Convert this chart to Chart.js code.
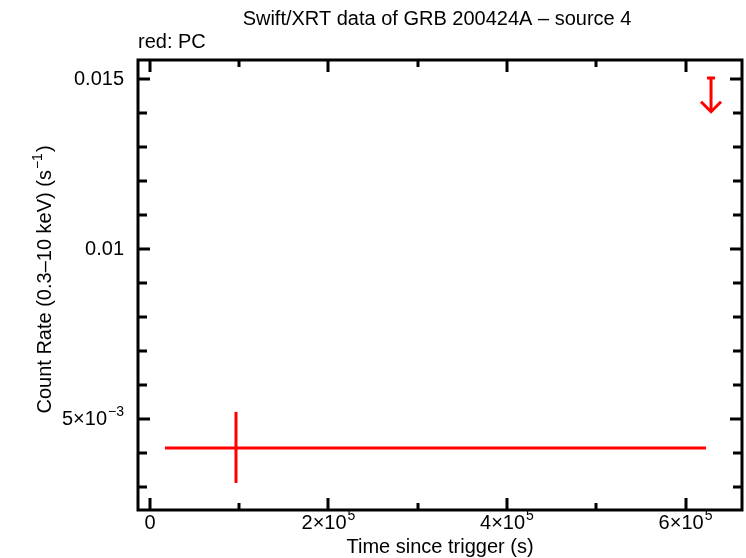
<!DOCTYPE html>
<html>
<head>
<meta charset="utf-8">
<script src="https://cdn.jsdelivr.net/npm/chart.js@4.4.0/dist/chart.umd.min.js"></script>
<style>
  html, body { margin: 0; padding: 0; background: #fff; }
  #wrap { width: 746px; height: 558px; }
</style>
</head>
<body>
<div id="wrap"><canvas id="lc" width="746" height="558"></canvas></div>
<script>
// datos
const pcTime = [96400];
const pcTimeLo = [16800];
const pcTimeHi = [623000];
const pcRate = [0.00415];
const pcRateLo = [0.00312];
const pcRateHi = [0.00521];

// límite superior
const ulTime = [628600];
const ulRate = [0.01503];

// ejes
const xMajor = [0, 200000, 400000, 600000];
const xMajorLabels = [['0', ''], ['2×10', '5'], ['4×10', '5'], ['6×10', '5']];
const xMinor = [100000, 300000, 500000];
const yMajor = [0.005, 0.01, 0.015];
const yMajorLabels = [['5×10', '−3'], ['0.01', ''], ['0.015', '']];
const yMinor = [0.003, 0.004, 0.006, 0.007, 0.008, 0.009, 0.011, 0.012, 0.013, 0.014];

const RED = '#ff0000';
const FONT = '"Liberation Sans", Arial, sans-serif';
const FS = 20;
const SUP = 0.7;

// segmentos de error como datasets de línea
const datasets = [];
for (let i = 0; i < pcTime.length; i++) {
    datasets.push({
        data: [{ x: pcTimeLo[i], y: pcRate[i] }, { x: pcTimeHi[i], y: pcRate[i] }],
        borderColor: RED, borderWidth: 3, pointRadius: 0, showLine: true
    });
    datasets.push({
        data: [{ x: pcTime[i], y: pcRateLo[i] }, { x: pcTime[i], y: pcRateHi[i] }],
        borderColor: RED, borderWidth: 3, pointRadius: 0, showLine: true
    });
}
for (let i = 0; i < ulTime.length; i++) {
    datasets.push({
        data: [{ x: ulTime[i], y: ulRate[i] }, { x: ulTime[i], y: ulRate[i] * 0.934 }],
        borderColor: RED, borderWidth: 3, pointRadius: 0, showLine: true
    });
}

function drawSup(ctx, main, sup, x, y, align, size) {
    ctx.font = size + 'px ' + FONT;
    const wMain = ctx.measureText(main).width;
    ctx.font = Math.round(size * SUP) + 'px ' + FONT;
    const wSup = sup ? ctx.measureText(sup).width + 1 : 0;
    const total = wMain + wSup;
    let x0 = x;
    if (align === 'right') x0 = x - total;
    else if (align === 'center') x0 = x - total / 2;
    ctx.textAlign = 'left';
    ctx.textBaseline = 'middle';
    ctx.font = size + 'px ' + FONT;
    ctx.fillText(main, x0, y);
    if (sup) {
        ctx.font = Math.round(size * SUP) + 'px ' + FONT;
        ctx.fillText(sup, x0 + wMain + 1, y - size * 0.36);
    }
    return x0 + total;
}

const frame = {
    id: 'frame',
    afterDatasetsDraw(chart) {
        const { ctx, chartArea: a, scales } = chart;
        const sx = scales.x, sy = scales.y;
        ctx.save();
        // flechas de límite superior
        ctx.strokeStyle = RED;
        ctx.lineWidth = 3;
        for (let i = 0; i < ulTime.length; i++) {
            const px = sx.getPixelForValue(ulTime[i]);
            const top = sy.getPixelForValue(ulRate[i]);
            const tip = sy.getPixelForValue(ulRate[i] * 0.934);
            ctx.beginPath();
            ctx.moveTo(px - 4, top); ctx.lineTo(px + 4, top);
            ctx.moveTo(px - 10, tip - 10); ctx.lineTo(px, tip); ctx.lineTo(px + 10, tip - 10);
            ctx.stroke();
        }
        // marco y marcas
        ctx.strokeStyle = '#000';
        ctx.lineWidth = 3;
        ctx.strokeRect(a.left, a.top, a.right - a.left, a.bottom - a.top);
        ctx.beginPath();
        const xt = (v, len) => {
            const p = Math.round(sx.getPixelForValue(v));
            ctx.moveTo(p, a.bottom); ctx.lineTo(p, a.bottom - len);
            ctx.moveTo(p, a.top); ctx.lineTo(p, a.top + len);
        };
        const yt = (v, len) => {
            const p = Math.round(sy.getPixelForValue(v));
            ctx.moveTo(a.left, p); ctx.lineTo(a.left + len, p);
            ctx.moveTo(a.right, p); ctx.lineTo(a.right - len, p);
        };
        xMajor.forEach(v => xt(v, 12));
        xMinor.forEach(v => xt(v, 7));
        yMajor.forEach(v => yt(v, 12));
        yMinor.forEach(v => yt(v, 9));
        ctx.stroke();
        // etiquetas
        ctx.fillStyle = '#000';
        xMajor.forEach((v, i) => {
            drawSup(ctx, xMajorLabels[i][0], xMajorLabels[i][1], sx.getPixelForValue(v), a.bottom + 13, 'center', FS);
        });
        yMajor.forEach((v, i) => {
            drawSup(ctx, yMajorLabels[i][0], yMajorLabels[i][1], 124, sy.getPixelForValue(v), 'right', FS);
        });
        // títulos
        ctx.font = FS + 'px ' + FONT;
        ctx.textAlign = 'center';
        ctx.textBaseline = 'middle';
        ctx.fillText('Swift/XRT data of GRB 200424A \u2013 source 4', 437, 19);
        ctx.fillText('Time since trigger (s)', 440, 547);
        ctx.textAlign = 'left';
        ctx.fillText('red: PC', 138, 42);
        // título del eje y
        ctx.translate(45, 280);
        ctx.rotate(-Math.PI / 2);
        const mainTxt = 'Count Rate (0.3\u201310 keV) (s';
        ctx.font = FS + 'px ' + FONT;
        const wAll = ctx.measureText(mainTxt).width + ctx.measureText(')').width;
        ctx.font = Math.round(FS * SUP) + 'px ' + FONT;
        const wS = ctx.measureText('\u22121').width + 1;
        const end = drawSup(ctx, mainTxt, '\u22121', -(wAll + wS) / 2, 0, 'left', FS);
        ctx.font = FS + 'px ' + FONT;
        ctx.textAlign = 'left';
        ctx.textBaseline = 'middle';
        ctx.fillText(')', end + 1, 0);
        ctx.restore();
    }
};

new Chart(document.getElementById('lc'), {
    type: 'scatter',
    data: { datasets: datasets },
    options: {
        responsive: false,
        animation: false,
        layout: { padding: { top: 60, right: 4, left: 0, bottom: 0 } },
        plugins: { legend: { display: false }, tooltip: { enabled: false }, title: { display: false } },
        scales: {
            x: {
                type: 'linear', min: -13400, max: 663300,
                grid: { display: false }, border: { display: false },
                ticks: { display: false },
                afterFit: s => { s.height = 48; }
            },
            y: {
                type: 'linear', min: 0.002324, max: 0.01556,
                grid: { display: false }, border: { display: false },
                ticks: { display: false },
                afterFit: s => { s.width = 138; }
            }
        }
    },
    plugins: [frame]
});
</script>
</body>
</html>
